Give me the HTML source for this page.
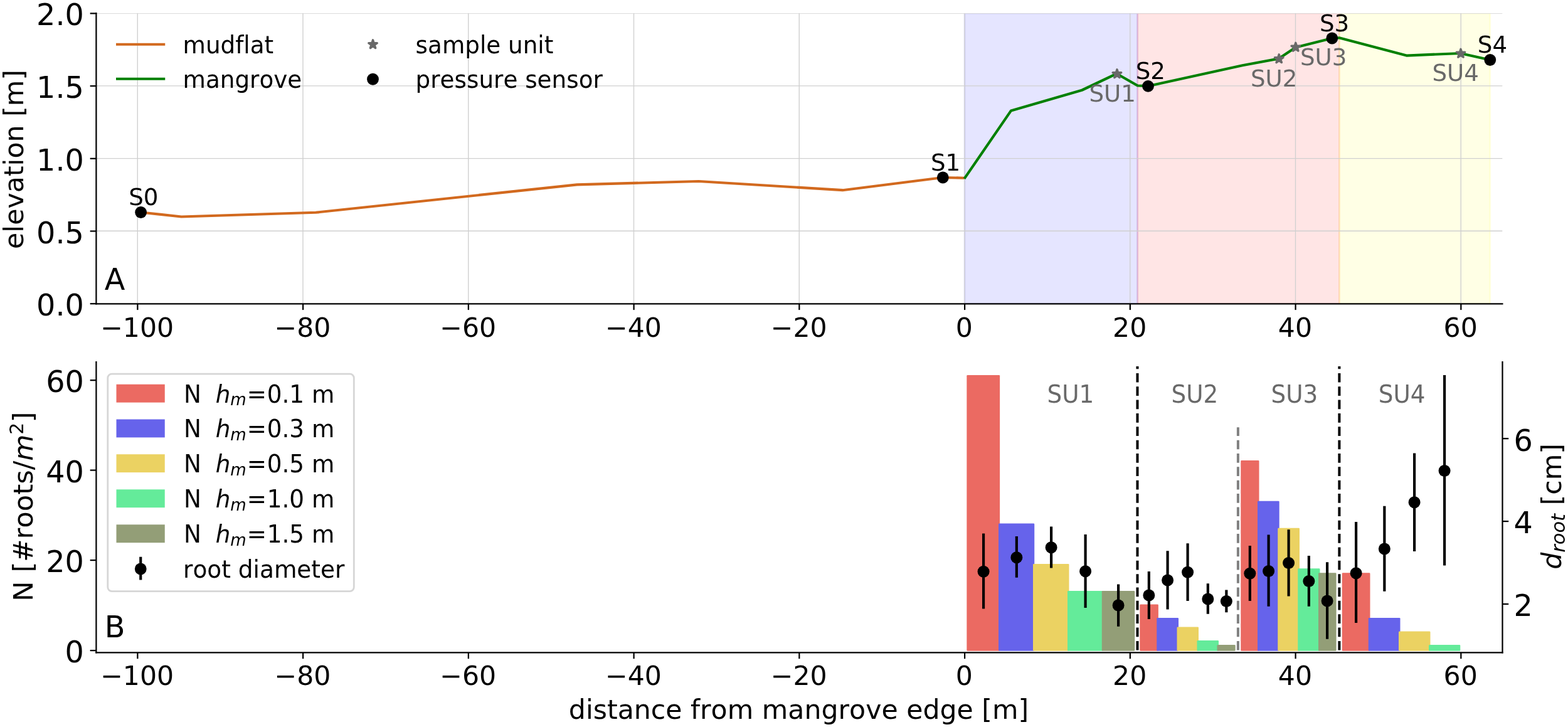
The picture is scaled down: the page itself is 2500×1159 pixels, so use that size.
<!DOCTYPE html>
<html lang="en">
<head>
<meta charset="utf-8">
<title>Mangrove transect: elevation and root density</title>
<style>
html,body{margin:0;padding:0;background:#fff;}
body{width:2500px;height:1159px;overflow:hidden;}
svg{display:block;}
text{font-kerning:none;font-variant-ligatures:none;font-feature-settings:"liga" 0,"clig" 0,"kern" 0;}
</style>
</head>
<body>
<svg width="2500" height="1159" viewBox="0 0 2500 1159" font-family='"DejaVu Sans", "Liberation Sans", sans-serif'>
<rect width="2500" height="1159" fill="#fff"/>
<clipPath id="axA"><rect x="153.4" y="21.4" width="2241.1" height="462.95000000000005"/></clipPath>
<rect clip-path="url(#axA)" x="1538.00" y="21.0" width="275.62" height="463.35" fill="#0000ff" fill-opacity="0.1" stroke="#0000ff" stroke-opacity="0.1" stroke-width="2.78"/>
<rect clip-path="url(#axA)" x="1813.62" y="21.0" width="321.78" height="463.35" fill="#ff0000" fill-opacity="0.1" stroke="#ff0000" stroke-opacity="0.1" stroke-width="2.78"/>
<rect clip-path="url(#axA)" x="2135.39" y="21.0" width="240.28" height="463.35" fill="#ffff00" fill-opacity="0.1" stroke="#ffff00" stroke-opacity="0.1" stroke-width="2.78"/>
<line x1="219.25" x2="219.25" y1="21.0" y2="484.35" stroke="#d0d0d0" stroke-width="1.4"/>
<line x1="483.0" x2="483.0" y1="21.0" y2="484.35" stroke="#d0d0d0" stroke-width="1.4"/>
<line x1="746.75" x2="746.75" y1="21.0" y2="484.35" stroke="#d0d0d0" stroke-width="1.4"/>
<line x1="1010.5" x2="1010.5" y1="21.0" y2="484.35" stroke="#d0d0d0" stroke-width="1.4"/>
<line x1="1274.25" x2="1274.25" y1="21.0" y2="484.35" stroke="#d0d0d0" stroke-width="1.4"/>
<line x1="1538.0" x2="1538.0" y1="21.0" y2="484.35" stroke="#d0d0d0" stroke-width="1.4"/>
<line x1="1801.75" x2="1801.75" y1="21.0" y2="484.35" stroke="#d0d0d0" stroke-width="1.4"/>
<line x1="2065.5" x2="2065.5" y1="21.0" y2="484.35" stroke="#d0d0d0" stroke-width="1.4"/>
<line x1="2329.25" x2="2329.25" y1="21.0" y2="484.35" stroke="#d0d0d0" stroke-width="1.4"/>
<line x1="153.4" x2="2395.3" y1="368.3" y2="368.3" stroke="#d0d0d0" stroke-width="1.4"/>
<line x1="153.4" x2="2395.3" y1="252.6" y2="252.6" stroke="#d0d0d0" stroke-width="1.4"/>
<line x1="153.4" x2="2395.3" y1="136.9" y2="136.9" stroke="#d0d0d0" stroke-width="1.4"/>
<line x1="153.4" x2="2395.3" y1="21.6" y2="21.6" stroke="#d0d0d0" stroke-width="0.8"/>
<polyline points="224.60,338.50 289.25,345.50 503.40,338.75 920.00,294.40 1114.00,289.00 1343.50,303.20 1503.00,283.00 1537.50,283.75" fill="none" stroke="#d2691e" stroke-width="4.17" stroke-linejoin="round" stroke-linecap="butt"/>
<polyline points="1537.50,284.90 1612.00,176.40 1725.00,143.75 1780.50,117.50 1813.75,136.50 1830.50,137.20 1981.00,104.30 2038.75,93.50 2065.80,75.40 2123.80,61.00 2135.20,60.30 2242.50,88.60 2328.50,85.00 2375.80,95.50" fill="none" stroke="#008000" stroke-width="4.17" stroke-linejoin="round" stroke-linecap="butt"/>
<polygon points="1781.00,110.80 1782.59,115.71 1787.75,115.71 1783.58,118.74 1785.17,123.64 1781.00,120.61 1776.83,123.64 1778.42,118.74 1774.25,115.71 1779.41,115.71" fill="#696969" stroke="#696969" stroke-width="3.4" stroke-linejoin="round"/>
<polygon points="2039.25,86.80 2040.84,91.71 2046.00,91.71 2041.83,94.74 2043.42,99.64 2039.25,96.61 2035.08,99.64 2036.67,94.74 2032.50,91.71 2037.66,91.71" fill="#696969" stroke="#696969" stroke-width="3.4" stroke-linejoin="round"/>
<polygon points="2065.80,68.30 2067.39,73.21 2072.55,73.21 2068.38,76.24 2069.97,81.14 2065.80,78.11 2061.63,81.14 2063.22,76.24 2059.05,73.21 2064.21,73.21" fill="#696969" stroke="#696969" stroke-width="3.4" stroke-linejoin="round"/>
<polygon points="2329.00,78.30 2330.59,83.21 2335.75,83.21 2331.58,86.24 2333.17,91.14 2329.00,88.11 2324.83,91.14 2326.42,86.24 2322.25,83.21 2327.41,83.21" fill="#696969" stroke="#696969" stroke-width="3.4" stroke-linejoin="round"/>
<circle cx="224.6" cy="338.5" r="9.4" fill="#000"/>
<circle cx="1503.3" cy="283" r="9.4" fill="#000"/>
<circle cx="1830.5" cy="137.3" r="9.4" fill="#000"/>
<circle cx="2123.8" cy="61.0" r="9.4" fill="#000"/>
<circle cx="2375.8" cy="95.5" r="9.4" fill="#000"/>
<text transform="translate(1736.40,162.30) scale(1,0.98)" font-size="37.2" fill="#696969">SU1</text>
<text transform="translate(1993.90,137.90) scale(1,0.98)" font-size="37.2" fill="#696969">SU2</text>
<text transform="translate(2072.90,104.00) scale(1,0.98)" font-size="37.2" fill="#696969">SU3</text>
<text transform="translate(2283.40,129.20) scale(1,0.98)" font-size="37.2" fill="#696969">SU4</text>
<text transform="translate(205.15,327.00) scale(1,0.98)" font-size="37.2">S0</text>
<text transform="translate(1483.90,272.40) scale(1,0.98)" font-size="37.2">S1</text>
<text transform="translate(1810.70,126.00) scale(1,0.98)" font-size="37.2">S2</text>
<text transform="translate(2103.90,49.80) scale(1,0.98)" font-size="37.2">S3</text>
<text transform="translate(2355.80,84.30) scale(1,0.98)" font-size="37.2">S4</text>
<line x1="153.4" x2="153.4" y1="19.9" y2="485.45000000000005" stroke="#000" stroke-width="2.25"/>
<line x1="152.3" x2="2396.5" y1="484.35" y2="484.35" stroke="#000" stroke-width="2.25"/>
<line x1="219.35" x2="219.35" y1="484.35" y2="494.1" stroke="#000" stroke-width="2.25"/>
<text transform="translate(218.65,536.50) scale(1,1.0)" font-size="42.6" text-anchor="middle">−100</text>
<line x1="483.10" x2="483.10" y1="484.35" y2="494.1" stroke="#000" stroke-width="2.25"/>
<text transform="translate(482.40,536.50) scale(1,1.0)" font-size="42.6" text-anchor="middle">−80</text>
<line x1="746.85" x2="746.85" y1="484.35" y2="494.1" stroke="#000" stroke-width="2.25"/>
<text transform="translate(746.15,536.50) scale(1,1.0)" font-size="42.6" text-anchor="middle">−60</text>
<line x1="1010.60" x2="1010.60" y1="484.35" y2="494.1" stroke="#000" stroke-width="2.25"/>
<text transform="translate(1009.90,536.50) scale(1,1.0)" font-size="42.6" text-anchor="middle">−40</text>
<line x1="1274.35" x2="1274.35" y1="484.35" y2="494.1" stroke="#000" stroke-width="2.25"/>
<text transform="translate(1273.65,536.50) scale(1,1.0)" font-size="42.6" text-anchor="middle">−20</text>
<line x1="1538.10" x2="1538.10" y1="484.35" y2="494.1" stroke="#000" stroke-width="2.25"/>
<text transform="translate(1537.40,536.50) scale(1,1.0)" font-size="42.6" text-anchor="middle">0</text>
<line x1="1801.85" x2="1801.85" y1="484.35" y2="494.1" stroke="#000" stroke-width="2.25"/>
<text transform="translate(1801.15,536.50) scale(1,1.0)" font-size="42.6" text-anchor="middle">20</text>
<line x1="2065.60" x2="2065.60" y1="484.35" y2="494.1" stroke="#000" stroke-width="2.25"/>
<text transform="translate(2064.90,536.50) scale(1,1.0)" font-size="42.6" text-anchor="middle">40</text>
<line x1="2329.35" x2="2329.35" y1="484.35" y2="494.1" stroke="#000" stroke-width="2.25"/>
<text transform="translate(2328.65,536.50) scale(1,1.0)" font-size="42.6" text-anchor="middle">60</text>
<line x1="143.65" x2="153.4" y1="484.20" y2="484.20" stroke="#000" stroke-width="2.25"/>
<text transform="translate(133.90,503.23) scale(1,1.005)" font-size="47.7" text-anchor="end">0.0</text>
<line x1="143.65" x2="153.4" y1="368.50" y2="368.50" stroke="#000" stroke-width="2.25"/>
<text transform="translate(133.90,387.53) scale(1,1.005)" font-size="47.7" text-anchor="end">0.5</text>
<line x1="143.65" x2="153.4" y1="252.80" y2="252.80" stroke="#000" stroke-width="2.25"/>
<text transform="translate(133.90,271.83) scale(1,1.005)" font-size="47.7" text-anchor="end">1.0</text>
<line x1="143.65" x2="153.4" y1="137.10" y2="137.10" stroke="#000" stroke-width="2.25"/>
<text transform="translate(133.90,156.13) scale(1,1.005)" font-size="47.7" text-anchor="end">1.5</text>
<line x1="143.65" x2="153.4" y1="21.40" y2="21.40" stroke="#000" stroke-width="2.25"/>
<text transform="translate(133.90,40.43) scale(1,1.005)" font-size="47.7" text-anchor="end">2.0</text>
<text transform="translate(37.20,254.00) rotate(-90) scale(1,1.005)" font-size="42.65" text-anchor="middle">elevation [m]</text>
<text transform="translate(166.70,461.90) scale(1,1.01)" font-size="47.7">A</text>
<line x1="185" x2="263.25" y1="70.75" y2="70.75" stroke="#d2691e" stroke-width="4.17"/>
<line x1="185" x2="263.25" y1="125.75" y2="125.75" stroke="#008000" stroke-width="4.17"/>
<text transform="translate(291.60,84.50) scale(1,1.03)" font-size="37.3">mudflat</text>
<text transform="translate(291.60,139.75) scale(1,1.03)" font-size="37.3">mangrove</text>
<polygon points="594.55,63.75 596.14,68.66 601.30,68.66 597.13,71.69 598.72,76.59 594.55,73.56 590.38,76.59 591.97,71.69 587.80,68.66 592.96,68.66" fill="#696969" stroke="#696969" stroke-width="3.4" stroke-linejoin="round"/>
<circle cx="594.5" cy="126.25" r="9.4" fill="#000"/>
<text transform="translate(662.60,84.50) scale(1,1.03)" font-size="37.3">sample unit</text>
<text transform="translate(662.60,139.75) scale(1,1.03)" font-size="37.3">pressure sensor</text>
<rect x="1541.35" y="597.88" width="52.80" height="439.82" rx="1.3" fill="#eb6a62"/>
<rect x="1592" y="834.49" width="57.25" height="203.21" rx="1.3" fill="#6663eb"/>
<rect x="1647" y="899.02" width="57.50" height="138.68" rx="1.3" fill="#ebd262"/>
<rect x="1702" y="942.04" width="57.00" height="95.66" rx="1.3" fill="#64eb9a"/>
<rect x="1756.75" y="942.04" width="52.55" height="95.66" rx="1.3" fill="#939e77"/>
<rect x="1817.3" y="963.55" width="29.60" height="74.15" rx="1.3" fill="#eb6a62"/>
<rect x="1844.3" y="985.06" width="34.75" height="52.64" rx="1.3" fill="#6663eb"/>
<rect x="1876.5" y="999.40" width="34.50" height="38.30" rx="1.3" fill="#ebd262"/>
<rect x="1908.5" y="1020.91" width="34.50" height="16.79" rx="1.3" fill="#64eb9a"/>
<rect x="1940.5" y="1028.08" width="29.20" height="9.62" rx="1.3" fill="#939e77"/>
<rect x="1978.25" y="734.11" width="29.25" height="303.59" rx="1.3" fill="#eb6a62"/>
<rect x="2005" y="798.64" width="34.70" height="239.06" rx="1.3" fill="#6663eb"/>
<rect x="2037.25" y="841.66" width="34.75" height="196.04" rx="1.3" fill="#ebd262"/>
<rect x="2069.25" y="906.19" width="35.25" height="131.51" rx="1.3" fill="#64eb9a"/>
<rect x="2102" y="913.36" width="28.60" height="124.34" rx="1.3" fill="#939e77"/>
<rect x="2139.75" y="913.36" width="44.75" height="124.34" rx="1.3" fill="#eb6a62"/>
<rect x="2181.75" y="985.06" width="50.75" height="52.64" rx="1.3" fill="#6663eb"/>
<rect x="2230" y="1006.57" width="50.50" height="31.13" rx="1.3" fill="#ebd262"/>
<rect x="2278" y="1028.08" width="50.30" height="9.62" rx="1.3" fill="#64eb9a"/>
<line x1="1813.5" x2="1813.5" y1="1036.6" y2="584.1" stroke="#000" stroke-width="4.0" stroke-dasharray="14.7 6.65"/>
<line x1="2135.4" x2="2135.4" y1="1036.6" y2="584.1" stroke="#000" stroke-width="4.0" stroke-dasharray="14.7 6.65"/>
<line x1="1973.9" x2="1973.9" y1="1036.6" y2="681.25" stroke="#808080" stroke-width="4.0" stroke-dasharray="14.7 6.65"/>
<text transform="translate(1669.60,642.00) scale(1,1.03)" font-size="37.3" fill="#696969">SU1</text>
<text transform="translate(1867.60,642.00) scale(1,1.03)" font-size="37.3" fill="#696969">SU2</text>
<text transform="translate(2026.60,642.00) scale(1,1.03)" font-size="37.3" fill="#696969">SU3</text>
<text transform="translate(2197.85,642.00) scale(1,1.03)" font-size="37.3" fill="#696969">SU4</text>
<line x1="1568.1" x2="1568.1" y1="850.5" y2="970.5" stroke="#000" stroke-width="4.17"/>
<circle cx="1568.1" cy="911.25" r="9.5" fill="#000"/>
<line x1="1620.85" x2="1620.85" y1="855" y2="920.75" stroke="#000" stroke-width="4.17"/>
<circle cx="1620.85" cy="888.75" r="9.5" fill="#000"/>
<line x1="1676.1" x2="1676.1" y1="839.5" y2="905.5" stroke="#000" stroke-width="4.17"/>
<circle cx="1676.1" cy="872.75" r="9.5" fill="#000"/>
<line x1="1730.6" x2="1730.6" y1="852" y2="969" stroke="#000" stroke-width="4.17"/>
<circle cx="1730.6" cy="910.75" r="9.5" fill="#000"/>
<line x1="1783.1" x2="1783.1" y1="931.5" y2="998.75" stroke="#000" stroke-width="4.17"/>
<circle cx="1783.1" cy="965" r="9.5" fill="#000"/>
<line x1="1831.85" x2="1831.85" y1="911" y2="987" stroke="#000" stroke-width="4.17"/>
<circle cx="1831.85" cy="949" r="9.5" fill="#000"/>
<line x1="1861.6" x2="1861.6" y1="878.25" y2="971.5" stroke="#000" stroke-width="4.17"/>
<circle cx="1861.6" cy="925" r="9.5" fill="#000"/>
<line x1="1893.6" x2="1893.6" y1="866.25" y2="958" stroke="#000" stroke-width="4.17"/>
<circle cx="1893.6" cy="912.25" r="9.5" fill="#000"/>
<line x1="1925.85" x2="1925.85" y1="930.25" y2="978.75" stroke="#000" stroke-width="4.17"/>
<circle cx="1925.85" cy="955" r="9.5" fill="#000"/>
<line x1="1955.35" x2="1955.35" y1="940.5" y2="976.25" stroke="#000" stroke-width="4.17"/>
<circle cx="1955.35" cy="958.5" r="9.5" fill="#000"/>
<line x1="1992.85" x2="1992.85" y1="870" y2="958" stroke="#000" stroke-width="4.17"/>
<circle cx="1992.85" cy="914.25" r="9.5" fill="#000"/>
<line x1="2022.6" x2="2022.6" y1="852.5" y2="966.75" stroke="#000" stroke-width="4.17"/>
<circle cx="2022.6" cy="910.5" r="9.5" fill="#000"/>
<line x1="2054.6" x2="2054.6" y1="844.25" y2="950.5" stroke="#000" stroke-width="4.17"/>
<circle cx="2054.6" cy="897.5" r="9.5" fill="#000"/>
<line x1="2086.85" x2="2086.85" y1="886" y2="966.75" stroke="#000" stroke-width="4.17"/>
<circle cx="2086.85" cy="926.5" r="9.5" fill="#000"/>
<line x1="2116.1" x2="2116.1" y1="896.25" y2="1018.75" stroke="#000" stroke-width="4.17"/>
<circle cx="2116.1" cy="958" r="9.5" fill="#000"/>
<line x1="2162.1" x2="2162.1" y1="832" y2="993" stroke="#000" stroke-width="4.17"/>
<circle cx="2162.1" cy="913.75" r="9.5" fill="#000"/>
<line x1="2207.35" x2="2207.35" y1="806.75" y2="942.75" stroke="#000" stroke-width="4.17"/>
<circle cx="2207.35" cy="875" r="9.5" fill="#000"/>
<line x1="2255.1" x2="2255.1" y1="722.5" y2="879" stroke="#000" stroke-width="4.17"/>
<circle cx="2255.1" cy="800.75" r="9.5" fill="#000"/>
<line x1="2303.1" x2="2303.1" y1="598" y2="901.5" stroke="#000" stroke-width="4.17"/>
<circle cx="2303.1" cy="750.5" r="9.5" fill="#000"/>
<line x1="153.4" x2="153.4" y1="576.0" y2="1041.55" stroke="#000" stroke-width="2.25"/>
<line x1="2395.5" x2="2395.5" y1="576.0" y2="1041.55" stroke="#000" stroke-width="2.25"/>
<line x1="152.3" x2="2396.6" y1="1040.45" y2="1040.45" stroke="#000" stroke-width="2.25"/>
<line x1="219.35" x2="219.35" y1="1040.45" y2="1050.2" stroke="#000" stroke-width="2.25"/>
<text transform="translate(218.65,1092.00) scale(1,1.0)" font-size="42.6" text-anchor="middle">−100</text>
<line x1="483.10" x2="483.10" y1="1040.45" y2="1050.2" stroke="#000" stroke-width="2.25"/>
<text transform="translate(482.40,1092.00) scale(1,1.0)" font-size="42.6" text-anchor="middle">−80</text>
<line x1="746.85" x2="746.85" y1="1040.45" y2="1050.2" stroke="#000" stroke-width="2.25"/>
<text transform="translate(746.15,1092.00) scale(1,1.0)" font-size="42.6" text-anchor="middle">−60</text>
<line x1="1010.60" x2="1010.60" y1="1040.45" y2="1050.2" stroke="#000" stroke-width="2.25"/>
<text transform="translate(1009.90,1092.00) scale(1,1.0)" font-size="42.6" text-anchor="middle">−40</text>
<line x1="1274.35" x2="1274.35" y1="1040.45" y2="1050.2" stroke="#000" stroke-width="2.25"/>
<text transform="translate(1273.65,1092.00) scale(1,1.0)" font-size="42.6" text-anchor="middle">−20</text>
<line x1="1538.10" x2="1538.10" y1="1040.45" y2="1050.2" stroke="#000" stroke-width="2.25"/>
<text transform="translate(1537.40,1092.00) scale(1,1.0)" font-size="42.6" text-anchor="middle">0</text>
<line x1="1801.85" x2="1801.85" y1="1040.45" y2="1050.2" stroke="#000" stroke-width="2.25"/>
<text transform="translate(1801.15,1092.00) scale(1,1.0)" font-size="42.6" text-anchor="middle">20</text>
<line x1="2065.60" x2="2065.60" y1="1040.45" y2="1050.2" stroke="#000" stroke-width="2.25"/>
<text transform="translate(2064.90,1092.00) scale(1,1.0)" font-size="42.6" text-anchor="middle">40</text>
<line x1="2329.35" x2="2329.35" y1="1040.45" y2="1050.2" stroke="#000" stroke-width="2.25"/>
<text transform="translate(2328.65,1092.00) scale(1,1.0)" font-size="42.6" text-anchor="middle">60</text>
<line x1="143.65" x2="153.4" y1="1037.05" y2="1037.05" stroke="#000" stroke-width="2.25"/>
<text transform="translate(133.90,1055.53) scale(1,1.005)" font-size="47.7" text-anchor="end">0</text>
<line x1="143.65" x2="153.4" y1="893.10" y2="893.10" stroke="#000" stroke-width="2.25"/>
<text transform="translate(133.90,912.13) scale(1,1.005)" font-size="47.7" text-anchor="end">20</text>
<line x1="143.65" x2="153.4" y1="749.60" y2="749.60" stroke="#000" stroke-width="2.25"/>
<text transform="translate(133.90,768.73) scale(1,1.005)" font-size="47.7" text-anchor="end">40</text>
<line x1="143.65" x2="153.4" y1="606.20" y2="606.20" stroke="#000" stroke-width="2.25"/>
<text transform="translate(133.90,625.33) scale(1,1.005)" font-size="47.7" text-anchor="end">60</text>
<line x1="2395.5" x2="2405.25" y1="963.00" y2="963.00" stroke="#000" stroke-width="2.25"/>
<text transform="translate(2413.60,982.33) scale(1,1.005)" font-size="47.7">2</text>
<line x1="2395.5" x2="2405.25" y1="831.10" y2="831.10" stroke="#000" stroke-width="2.25"/>
<text transform="translate(2413.60,850.43) scale(1,1.005)" font-size="47.7">4</text>
<line x1="2395.5" x2="2405.25" y1="699.20" y2="699.20" stroke="#000" stroke-width="2.25"/>
<text transform="translate(2413.60,718.53) scale(1,1.005)" font-size="47.7">6</text>
<text transform="translate(52.40,807.70) rotate(-90) scale(1,1.005)" font-size="43.247099999999996" text-anchor="middle">N [#roots/<tspan font-style="italic">m</tspan><tspan font-size="29.9" dy="-15.4">2</tspan><tspan dy="15.4">]</tspan></text>
<text transform="translate(2488.60,807.50) rotate(-90) scale(1,1.005)" font-size="42.65" text-anchor="middle"><tspan font-style="italic">d</tspan><tspan font-style="italic" font-size="30.5" dy="6.8">root</tspan><tspan dy="-6.8"> [cm]</tspan></text>
<text transform="translate(1273.50,1145.70) scale(1,1.005)" font-size="42.65" text-anchor="middle">distance from mangrove edge [m]</text>
<text transform="translate(166.80,1015.80) scale(1,1.01)" font-size="47.7">B</text>
<rect x="171.8" y="596.2" width="392.5" height="346.4" rx="6.5" ry="6.5" fill="#fff" fill-opacity="0.8" stroke="#ccc" stroke-opacity="0.8" stroke-width="2.8"/>
<rect x="185.5" y="612.75" width="77.25" height="28.9" fill="#eb6a62"/>
<text transform="translate(293.00,641.50) scale(1,1.03)" font-size="37.3">N <tspan font-style="italic" dx="10.9">h</tspan><tspan font-style="italic" font-size="26.1" dy="4.8">m</tspan><tspan dy="-4.8" dx="1">=</tspan><tspan dx="0.8">0.1 m</tspan></text>
<rect x="185.5" y="668.5" width="77.25" height="28.9" fill="#6663eb"/>
<text transform="translate(293.00,697.25) scale(1,1.03)" font-size="37.3">N <tspan font-style="italic" dx="10.9">h</tspan><tspan font-style="italic" font-size="26.1" dy="4.8">m</tspan><tspan dy="-4.8" dx="1">=</tspan><tspan dx="0.8">0.3 m</tspan></text>
<rect x="185.5" y="724.25" width="77.25" height="28.9" fill="#ebd262"/>
<text transform="translate(293.00,753.00) scale(1,1.03)" font-size="37.3">N <tspan font-style="italic" dx="10.9">h</tspan><tspan font-style="italic" font-size="26.1" dy="4.8">m</tspan><tspan dy="-4.8" dx="1">=</tspan><tspan dx="0.8">0.5 m</tspan></text>
<rect x="185.5" y="780.3" width="77.25" height="28.9" fill="#64eb9a"/>
<text transform="translate(293.00,809.05) scale(1,1.03)" font-size="37.3">N <tspan font-style="italic" dx="10.9">h</tspan><tspan font-style="italic" font-size="26.1" dy="4.8">m</tspan><tspan dy="-4.8" dx="1">=</tspan><tspan dx="0.8">1.0 m</tspan></text>
<rect x="185.5" y="836.3" width="77.25" height="28.9" fill="#939e77"/>
<text transform="translate(293.00,865.05) scale(1,1.03)" font-size="37.3">N <tspan font-style="italic" dx="10.9">h</tspan><tspan font-style="italic" font-size="26.1" dy="4.8">m</tspan><tspan dy="-4.8" dx="1">=</tspan><tspan dx="0.8">1.5 m</tspan></text>
<line x1="224.25" x2="224.25" y1="887.75" y2="924.5" stroke="#000" stroke-width="4.17"/>
<circle cx="224.25" cy="907" r="9.4" fill="#000"/>
<text transform="translate(292.00,920.70) scale(1,1.03)" font-size="37.4492">root diameter</text>
</svg>
</body>
</html>
